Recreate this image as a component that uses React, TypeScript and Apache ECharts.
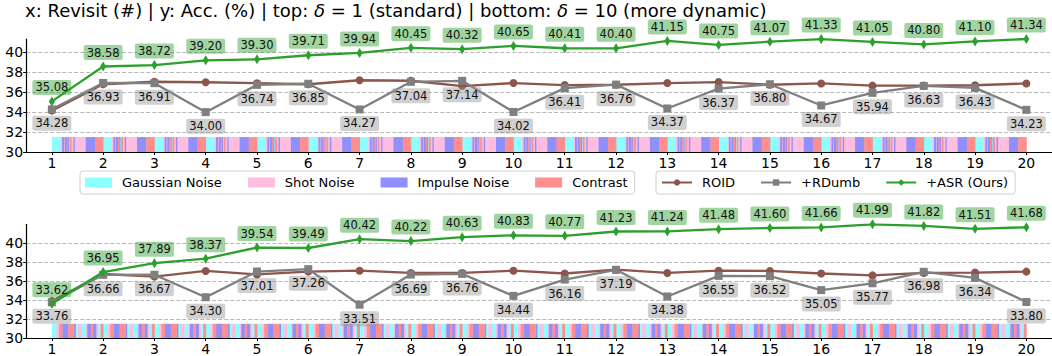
import React, { useEffect, useRef } from "react";
import * as echarts from "echarts";

const revisits = [1, 2, 3, 4, 5, 6, 7, 8, 9, 10, 11, 12, 13, 14, 15, 16, 17, 18, 19, 20];

// top: delta = 1 (standard)
const topASR = [35.08, 38.58, 38.72, 39.2, 39.3, 39.71, 39.94, 40.45, 40.32, 40.65, 40.41, 40.4, 41.15, 40.75, 41.07, 41.33, 41.05, 40.8, 41.1, 41.34];
const topRDumb = [34.28, 36.93, 36.91, 34.0, 36.74, 36.85, 34.27, 37.04, 37.14, 34.02, 36.41, 36.76, 34.37, 36.37, 36.8, 34.67, 35.94, 36.63, 36.43, 34.23];
const topROID = [34.15, 36.8, 37.05, 37.0, 36.9, 36.8, 37.2, 37.15, 36.62, 36.92, 36.72, 36.75, 36.92, 37.02, 36.75, 36.88, 36.66, 36.66, 36.7, 36.88];

// bottom: delta = 10 (more dynamic)
const botASR = [33.62, 36.95, 37.89, 38.37, 39.54, 39.49, 40.42, 40.22, 40.63, 40.83, 40.77, 41.23, 41.24, 41.48, 41.6, 41.66, 41.99, 41.82, 41.51, 41.68];
const botRDumb = [33.76, 36.66, 36.67, 34.3, 37.01, 37.26, 33.51, 36.69, 36.76, 34.44, 36.16, 37.19, 34.38, 36.55, 36.52, 35.05, 35.77, 36.98, 36.34, 33.8];
const botROID = [33.9, 36.75, 36.47, 37.07, 36.7, 37.0, 37.1, 36.86, 36.86, 37.1, 36.8, 37.2, 36.86, 37.1, 37.07, 36.8, 36.6, 36.86, 36.9, 37.0];

const domainNames = ["Gaussian Noise", "Shot Noise", "Impulse Noise", "Contrast"];
const domainColors = ["#8cffff", "#ffbde0", "#8f8fff", "#ff8f8f"];

// domain stream within one revisit (domain index, share of the interval)
const topStripeDomains = [0, 1, 2, 1, 2, 3, 2, 0, 3, 1, 2, 1, 2, 3];
const topStripeWidths = [0.17, 0.03, 0.03, 0.02, 0.04, 0.02, 0.02, 0.02, 0.03, 0.04, 0.02, 0.22, 0.18, 0.16];
const botStripeDomains = [0, 1, 3, 2, 3, 2, 0, 1, 0, 1, 2, 3, 2, 1, 0, 3];
const botStripeWidths = [0.09, 0.05, 0.06, 0.12, 0.11, 0.03, 0.05, 0.07, 0.08, 0.03, 0.07, 0.04, 0.06, 0.04, 0.05, 0.05];

const yTicks = [30, 32, 34, 36, 38, 40];
const lineNames = ["ROID", "+RDumb", "+ASR (Ours)"];
const lineColors = ["#8c564b", "#7f7f7f", "#2ca02c"];

const FONT = "DejaVu Sans";
const BAND_LO = 30;
const BAND_HI = 31.5;

function buildStripes(domains: number[], widths: number[]) {
  const out: number[][][] = domainNames.map(() => []);
  for (let k = 0; k < revisits.length - 1; k++) {
    let x = revisits[k];
    const span = revisits[k + 1] - revisits[k];
    for (let j = 0; j < domains.length; j++) {
      const x1 = x + widths[j] * span;
      out[domains[j]].push([x, x1, BAND_LO, BAND_HI]);
      x = x1;
    }
  }
  return out;
}

function pairs(vals: number[]) {
  return revisits.map((r, i) => [r, vals[i]]);
}

function makeSeries(g: number, asr: number[], rdumb: number[], roid: number[], stripes: number[][][]) {
  const s: any[] = [];
  stripes.forEach((segs, d) => {
    s.push({
      type: "custom",
      name: domainNames[d],
      xAxisIndex: g,
      yAxisIndex: g,
      itemStyle: { color: domainColors[d] },
      encode: { x: [0, 1], y: [2, 3] },
      z: 1,
      silent: true,
      renderItem: (params: any, api: any) => {
        const p0 = api.coord([api.value(0), api.value(2)]);
        const p1 = api.coord([api.value(1), api.value(3)]);
        return {
          type: "rect",
          shape: { x: p0[0], y: p1[1], width: p1[0] - p0[0] + 0.4, height: p0[1] - p1[1] },
          style: { fill: domainColors[d] },
        };
      },
      data: segs,
    });
  });
  const labelBase = {
    show: true,
    position: "inside",
    fontSize: 11.5,
    fontFamily: FONT,
    color: "#111",
    padding: [2, 3, 1, 3],
    borderRadius: 2,
    formatter: (p: any) => Number(p.value[1]).toFixed(2),
  };
  s.push({
    type: "line",
    name: lineNames[0],
    xAxisIndex: g,
    yAxisIndex: g,
    data: pairs(roid),
    symbol: "circle",
    symbolSize: 8,
    lineStyle: { color: lineColors[0], width: 2.3 },
    itemStyle: { color: lineColors[0] },
    z: 3,
  });
  s.push({
    type: "line",
    name: lineNames[1],
    xAxisIndex: g,
    yAxisIndex: g,
    data: pairs(rdumb),
    symbol: "rect",
    symbolSize: 8,
    lineStyle: { color: lineColors[1], width: 2.3 },
    itemStyle: { color: lineColors[1] },
    label: { ...labelBase, offset: [0, 14], backgroundColor: "rgba(150,150,150,0.45)" },
    z: 4,
  });
  s.push({
    type: "line",
    name: lineNames[2],
    xAxisIndex: g,
    yAxisIndex: g,
    data: pairs(asr),
    symbol: "path://M0,-10L6,0L0,10L-6,0Z",
    symbolSize: [6, 10],
    lineStyle: { color: lineColors[2], width: 2.3 },
    itemStyle: { color: lineColors[2] },
    label: { ...labelBase, offset: [0, -14], backgroundColor: "rgba(44,160,44,0.45)" },
    z: 5,
  });
  return s;
}

function xAxis(g: number) {
  return {
    type: "value",
    gridIndex: g,
    min: 0.5,
    max: 20.5,
    axisLine: { show: true, lineStyle: { color: "#000", width: 1.2 } },
    axisTick: { show: true, length: 3, customValues: revisits, lineStyle: { color: "#000" } },
    axisLabel: { customValues: revisits, fontSize: 14, fontFamily: FONT, color: "#000", margin: 4 },
    splitLine: { show: false },
  };
}

function yAxis(g: number) {
  return {
    type: "value",
    gridIndex: g,
    min: 30,
    max: (v: any) => v.max,
    interval: 2,
    axisLine: { show: true, lineStyle: { color: "#000", width: 1.2 } },
    axisTick: { show: true, length: 3, customValues: yTicks, lineStyle: { color: "#000" } },
    axisLabel: { customValues: yTicks, fontSize: 14, fontFamily: FONT, color: "#000", margin: 3 },
    splitLine: { show: true, showMaxLine: true, showMinLine: false, lineStyle: { color: "#b8b8b8", type: [4, 2], width: 1 } },
  };
}

export default function App() {
  const ref = useRef<HTMLDivElement>(null);
  useEffect(() => {
    document.body.style.margin = "0";
    if (!ref.current) return;
    const chart = echarts.init(ref.current, undefined, { renderer: "svg" });
    const topStripes = buildStripes(topStripeDomains, topStripeWidths);
    const botStripes = buildStripes(botStripeDomains, botStripeWidths);
    const legendText = { fontSize: 13, fontFamily: FONT, color: "#000", padding: [0, 0, 0, 5] };
    chart.setOption({
      animation: false,
      backgroundColor: "#fff",
      title: {
        text: "x: Revisit (#) | y: Acc. (%) | top: {i|δ} = 1 (standard) | bottom: {i|δ} = 10 (more dynamic)",
        left: 25,
        top: 1,
        padding: 0,
        textStyle: {
          fontSize: 18,
          lineHeight: 18,
          fontWeight: "normal",
          fontFamily: FONT,
          color: "#000",
          rich: { i: { fontStyle: "italic", fontSize: 18, lineHeight: 18, fontFamily: FONT, color: "#000" } },
        },
      },
      legend: [
        {
          data: domainNames.map((n) => ({ name: n, icon: "rect" })),
          left: 80,
          top: 171,
          itemWidth: 27,
          itemHeight: 10,
          itemGap: 26,
          padding: [5, 7, 5, 5],
          borderColor: "#d0d0d0",
          borderWidth: 1,
          borderRadius: 3,
          textStyle: legendText,
          selectedMode: false,
        },
        {
          data: lineNames,
          left: 656,
          top: 171,
          itemWidth: 30,
          itemHeight: 8,
          itemGap: 25,
          padding: [5, 7, 5, 5],
          borderColor: "#d0d0d0",
          borderWidth: 1,
          borderRadius: 3,
          textStyle: legendText,
          selectedMode: false,
        },
      ],
      grid: [
        { left: 26.2, top: 39, width: 1031.6, height: 113 },
        { left: 26.2, top: 224.3, width: 1031.6, height: 114.7 },
      ],
      xAxis: [xAxis(0), xAxis(1)],
      yAxis: [yAxis(0), yAxis(1)],
      series: [
        ...makeSeries(0, topASR, topRDumb, topROID, topStripes),
        ...makeSeries(1, botASR, botRDumb, botROID, botStripes),
      ],
    });
    return () => chart.dispose();
  }, []);
  return <div ref={ref} style={{ width: 1052, height: 356 }} />;
}
